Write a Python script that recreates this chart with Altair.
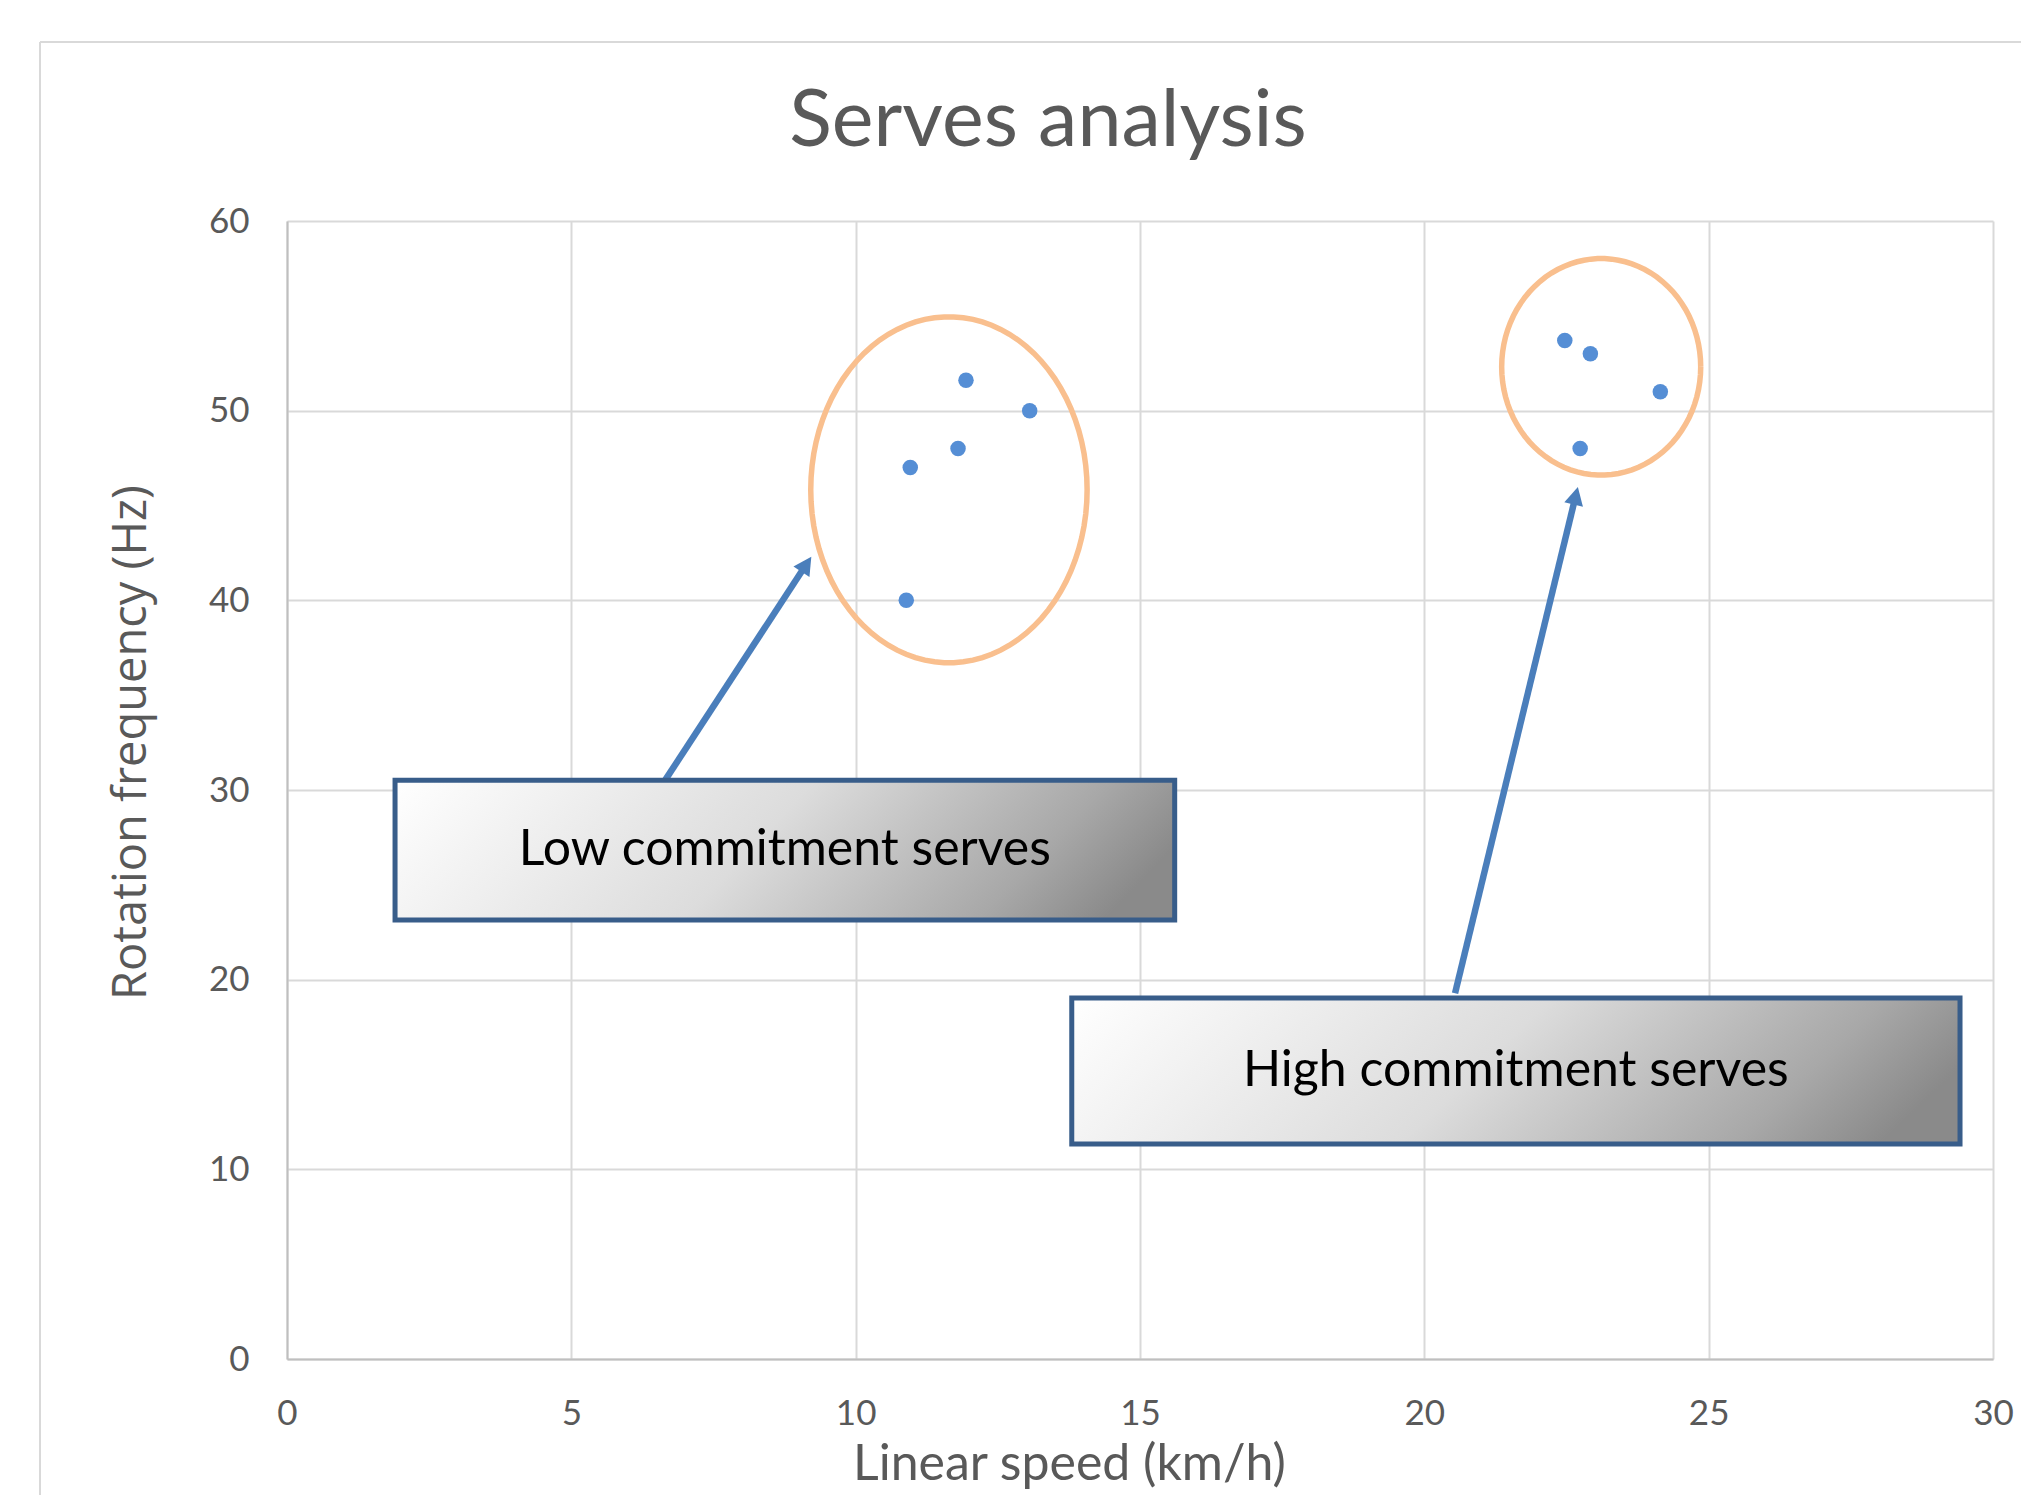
import math
import altair as alt
import pandas as pd

# ---------------- data ----------------
speed = [10.89, 10.96, 11.80, 11.94, 13.06, 22.47, 22.92, 24.15, 22.74]
freq = [40.0, 47.0, 48.0, 51.6, 50.0, 53.7, 53.0, 51.0, 48.0]

x_ticks = [0, 5, 10, 15, 20, 25, 30]
y_ticks = [0, 10, 20, 30, 40, 50, 60]

# cluster ellipses (data units)
ell_cx = [11.64, 23.11]
ell_cy = [45.83, 52.31]
ell_rx = [2.43, 1.75]
ell_ry = [9.12, 5.71]

# annotation boxes (data units)
box_labels = ["Low commitment serves", "High commitment serves"]
box_x1 = [1.90, 13.80]
box_x2 = [15.61, 29.42]
box_y1 = [30.52, 19.03]
box_y2 = [23.14, 11.33]

# arrows: start (on box) -> tip (near ellipse)
arrow_x0 = [6.65, 20.54]
arrow_y0 = [30.52, 19.28]
arrow_x1 = [9.22, 22.70]
arrow_y1 = [42.30, 45.98]

# ---------------- layout ----------------
W, H = 1706, 1138
PX, PY = W / 30.0, H / 60.0
GRAY = "#595959"
BLUE_ARROW = "#4A7EBB"

xs = alt.Scale(domain=[0, 30], nice=False, zero=False)
ys = alt.Scale(domain=[0, 60], nice=False, zero=False)

pts = pd.DataFrame({"speed": speed, "freq": freq})

boxes = pd.DataFrame({
    "label": box_labels, "x1": box_x1, "x2": box_x2, "y1": box_y1, "y2": box_y2,
})
boxes["cx"] = (boxes["x1"] + boxes["x2"]) / 2
boxes["cy"] = (boxes["y1"] + boxes["y2"]) / 2

arr = pd.DataFrame({"x0": arrow_x0, "y0": arrow_y0, "x1": arrow_x1, "y1": arrow_y1})
angs, xe, ye = [], [], []
for a in arr.itertuples():
    dxp = (a.x1 - a.x0) * PX
    dyp = (a.y1 - a.y0) * PY
    L = math.hypot(dxp, dyp)
    angs.append(math.degrees(math.atan2(dxp, dyp)))
    back = 13.0
    xe.append(a.x1 - dxp / L * back / PX)
    ye.append(a.y1 - dyp / L * back / PY)
arr["ang"] = angs
arr["xe"] = xe
arr["ye"] = ye

x_axis = alt.Axis(
    values=x_ticks, title="Linear speed (km/h)", labelFont="Lato", labelFontSize=35,
    labelColor=GRAY, labelPadding=37, labelFlush=False, ticks=False,
    domainColor="#bfbfbf", domainWidth=2, gridColor="#d9d9d9", gridWidth=2,
    titleFont="Lato", titleFontSize=50, titleColor=GRAY, titleFontWeight="normal",
    titleX=782, titleY=120, titleBaseline="alphabetic", titleAlign="center",
)
y_axis = alt.Axis(
    values=y_ticks, title="Rotation frequency (Hz)", labelFont="Lato", labelFontSize=35,
    labelColor=GRAY, labelPadding=38, labelFlush=False, ticks=False,
    domainColor="#bfbfbf", domainWidth=2, gridColor="#d9d9d9", gridWidth=2,
    titleFont="Open Sans", titleFontSize=47, titleColor=GRAY, titleFontWeight="normal",
    titleAngle=270, titleX=-142, titleY=521, titleBaseline="alphabetic", titleAlign="center",
)


def X(field):
    return alt.X(field, scale=xs, axis=x_axis)


def Y(field):
    return alt.Y(field, scale=ys, axis=y_axis)


points = alt.Chart(pts).mark_circle(size=240, color="#558ED5", opacity=1).encode(
    x=X("speed:Q"), y=Y("freq:Q"),
)

ellipses = []
for cx, cy, rx, ry in zip(ell_cx, ell_cy, ell_rx, ell_ry):
    e = alt.Chart(alt.sequence(0, 364, 4, as_="deg")).transform_calculate(
        ex=f"{cx} + {rx} * cos(datum.deg * PI / 180)",
        ey=f"{cy} + {ry} * sin(datum.deg * PI / 180)",
    ).mark_line(color="#F9BF8E", strokeWidth=5.5).encode(
        x=X("ex:Q"), y=Y("ey:Q"), order=alt.Order("deg:Q"),
    )
    ellipses.append(e)

arrow_lines = alt.Chart(arr).mark_rule(color=BLUE_ARROW, strokeWidth=6.5, strokeCap="butt").encode(
    x=X("x0:Q"), y=Y("y0:Q"), x2="xe:Q", y2="ye:Q",
)
arrow_heads = alt.Chart(arr).mark_point(
    shape="M0,0 L0.85,1.6 L-0.85,1.6 Z", filled=True, size=506, color=BLUE_ARROW,
    opacity=1, strokeWidth=0,
).encode(
    x=X("x1:Q"), y=Y("y1:Q"), angle=alt.Angle("ang:Q", scale=None),
)

grad = alt.Gradient(
    gradient="linear",
    stops=[alt.GradientStop(offset=0, color="#ffffff"),
           alt.GradientStop(offset=0.5, color="#dcdcdc"),
           alt.GradientStop(offset=0.85, color="#a8a8a8"),
           alt.GradientStop(offset=1, color="#8a8a8a")],
    x1=0, y1=0, x2=1.05, y2=0.18,
)
box_rects = alt.Chart(boxes).mark_rect(fill=grad, stroke="#385D8A", strokeWidth=5).encode(
    x=X("x1:Q"), x2="x2:Q", y=Y("y1:Q"), y2="y2:Q",
)
box_text = alt.Chart(boxes).mark_text(
    font="Lato", fontSize=50, color="#000000", align="center", baseline="middle",
).encode(
    x=X("cx:Q"), y=Y("cy:Q"), text="label:N",
)

frame_left = alt.Chart(alt.Data(values=[{}])).mark_rule(color="#d9d9d9", strokeWidth=2).encode(
    x=alt.value(-247), y=alt.value(-179), y2=alt.value(1278),
)
frame_top = alt.Chart(alt.Data(values=[{}])).mark_rule(color="#d9d9d9", strokeWidth=2).encode(
    x=alt.value(-247), x2=alt.value(1740), y=alt.value(-179),
)

chart = alt.layer(
    points, *ellipses, arrow_lines, box_rects, box_text, arrow_heads, frame_left, frame_top,
).properties(
    width=W, height=H,
    padding={"left": 279, "top": 213, "right": 28, "bottom": 136},
    autosize=alt.AutoSizeParams(type="none"),
    title=alt.TitleParams(
        text="Serves analysis", font="Lato", fontSize=79, fontWeight="normal", color=GRAY,
        anchor="middle", frame="group", dx=-92, offset=-184, baseline="alphabetic",
    ),
    background="white",
).configure_view(strokeWidth=0)

chart.save("out.html", embed_options={"renderer": "svg", "actions": False})
